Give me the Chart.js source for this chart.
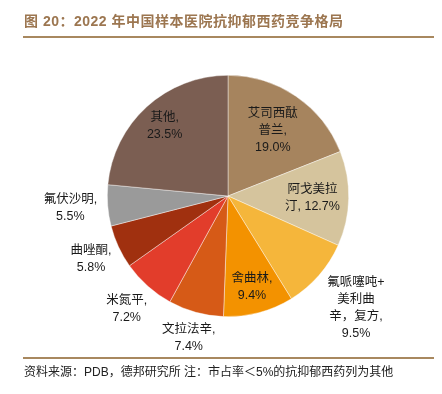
<!DOCTYPE html>
<html>
<head>
<meta charset="utf-8">
<script src="https://cdn.jsdelivr.net/npm/chart.js@4.4.0/dist/chart.umd.min.js"></script>
<style>
  html, body { margin: 0; padding: 0; background: #fff; }
  canvas { display: block; }
</style>
</head>
<body>
<canvas id="pieChart" width="442" height="394"></canvas>
<script>
// Data
const categories = ["艾司西酞普兰", "阿戈美拉汀", "氟哌噻吨+美利曲辛，复方", "舍曲林", "文拉法辛", "米氮平", "曲唑酮", "氟伏沙明", "其他"];
const shares = [19.0, 12.7, 9.5, 9.4, 7.4, 7.2, 5.8, 5.5, 23.5];
const colors = ["#A6845E", "#D5C49D", "#F5B63B", "#F39200", "#D65A17", "#E23D2B", "#A0300F", "#9A9A9A", "#7B5E52"];

// how each label is broken into lines ({v} = value)
const labelTemplates = [
    ["艾司西酞", "普兰,", "{v}"],
    ["阿戈美拉", "汀, {v}"],
    ["氟哌噻吨+", "美利曲", "辛，复方,", "{v}"],
    ["舍曲林,", "{v}"],
    ["文拉法辛,", "{v}"],
    ["米氮平,", "{v}"],
    ["曲唑酮,", "{v}"],
    ["氟伏沙明,", "{v}"],
    ["其他,", "{v}"]
];
// radial distance of each label, as a fraction of the radius
const labelDist = [0.66, 0.70, 1.41, 0.78, 1.22, 1.26, 1.25, 1.31, 0.78];

const titleText = "图 20：2022 年中国样本医院抗抑郁西药竞争格局";
const sourceText = "资料来源：PDB，德邦研究所 注：市占率＜5%的抗抑郁西药列为其他";

const FONT = '"Liberation Sans", "Noto Sans CJK SC", sans-serif';

// Plugin: background, title, footer and slice labels
const decor = {
    id: 'decor',
    beforeDraw(chart) {
        const c = chart.ctx;
        c.save();
        c.fillStyle = '#fff';
        c.fillRect(0, 0, chart.width, chart.height);
        c.restore();
    },
    afterDraw(chart) {
        const c = chart.ctx;
        c.save();
        // title
        c.fillStyle = '#9C7650';
        c.font = 'bold 14px ' + FONT;
        c.textBaseline = 'middle';
        c.textAlign = 'left';
        c.letterSpacing = '0.5px';
        c.fillText(titleText, 24, 22);
        c.letterSpacing = '0px';
        c.strokeStyle = '#A8885F';
        c.lineWidth = 2;
        c.beginPath(); c.moveTo(23, 37); c.lineTo(434, 37); c.stroke();
        // footer
        c.beginPath(); c.moveTo(23, 358); c.lineTo(434, 358); c.stroke();
        c.fillStyle = '#222';
        c.font = '12px ' + FONT;
        c.fillText(sourceText, 24, 373);

        // labels
        const meta = chart.getDatasetMeta(0);
        c.font = '12.5px ' + FONT;
        c.textAlign = 'center';
        c.fillStyle = '#1a1a1a';
        meta.data.forEach((arc, i) => {
            const p = arc.getProps(['x', 'y', 'startAngle', 'endAngle', 'outerRadius'], true);
            const mid = (p.startAngle + p.endAngle) / 2;
            const r = p.outerRadius * labelDist[i];
            const cx = p.x + Math.cos(mid) * r;
            const cy = p.y + Math.sin(mid) * r;
            const lines = labelTemplates[i].map(t => t.replace('{v}', shares[i].toFixed(1) + '%'));
            const lh = 17;
            const y0 = cy - (lines.length - 1) * lh / 2;
            lines.forEach((ln, k) => c.fillText(ln, cx, y0 + k * lh));
        });
        c.restore();
    }
};

const ctx = document.getElementById('pieChart').getContext('2d');
new Chart(ctx, {
    type: 'pie',
    data: {
        labels: categories,
        datasets: [{
            data: shares,
            backgroundColor: colors,
            borderColor: 'rgba(255,255,255,0.7)',
            borderWidth: 0.6
        }]
    },
    options: {
        responsive: false,
        devicePixelRatio: 1,
        animation: false,
        layout: { padding: { top: 75, bottom: 77, left: 107, right: 93 } },
        plugins: {
            legend: { display: false },
            tooltip: { enabled: false }
        }
    },
    plugins: [decor]
});
</script>
</body>
</html>
